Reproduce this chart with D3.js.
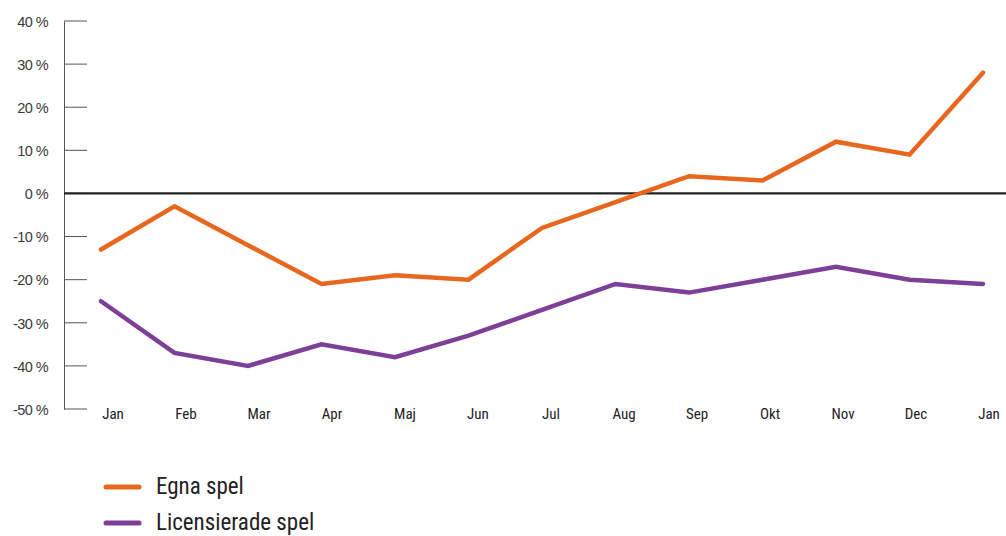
<!DOCTYPE html>
<html>
<head>
<meta charset="utf-8">
<script src="https://cdn.jsdelivr.net/npm/d3@7"></script>
<style>
  html, body { margin: 0; padding: 0; background: #fff; }
  svg { display: block; }
  .cond { font-family: "Liberation Sans Narrow", "Roboto Condensed", "Arial Narrow", sans-serif; }
</style>
</head>
<body>
<svg id="chart" width="1006" height="536"></svg>
<script>
// Monthly change, per cent
const months = ["Jan", "Feb", "Mar", "Apr", "Maj", "Jun", "Jul", "Aug", "Sep", "Okt", "Nov", "Dec", "Jan"];
const egnaSpel = [-13, -3, -12, -21, -19, -20, -8, -2, 4, 3, 12, 9, 28];
const licensieradeSpel = [-25, -37, -40, -35, -38, -33, -27, -21, -23, -20, -17, -20, -21];
const yTicks = [40, 30, 20, 10, 0, -10, -20, -30, -40, -50];

const seriesNames = ["Egna spel", "Licensierade spel"];
const seriesColors = ["#e8671e", "#7d3f98"];

const svg = d3.select("#chart");

const idx = d3.range(months.length);
const x = d3.scalePoint().domain(idx).range([101, 983]);
const xLabel = d3.scalePoint().domain(idx).range([113, 989]);
const y = d3.scaleLinear().domain([-50, 40]).range([409, 21]);

// Y axis
const yAxis = d3.axisLeft(y).tickValues(yTicks).tickSize(0).tickFormat(d => d + " %");
const gy = svg.append("g").attr("transform", "translate(64,0)").call(yAxis);
gy.select(".domain").attr("stroke", "#555").attr("stroke-width", 1);
gy.selectAll("text")
  .attr("x", -16)
  .attr("dy", "0.36em")
  .attr("fill", "#3a3a3a")
  .style("font-family", "'Liberation Sans', Arial, sans-serif")
  .style("font-size", "14.5px")
  .style("letter-spacing", "-0.6px");

// short tick marks inside the plot
svg.append("g").selectAll("line").data(yTicks).join("line")
  .attr("x1", 64).attr("x2", 87)
  .attr("y1", d => y(d)).attr("y2", d => y(d))
  .attr("stroke", "#555").attr("stroke-width", 1);

// Zero line
svg.append("line")
  .attr("x1", 64).attr("x2", 1006)
  .attr("y1", y(0)).attr("y2", y(0))
  .attr("stroke", "#222").attr("stroke-width", 2.2);

// Month labels
svg.append("g").attr("class", "cond").selectAll("text").data(idx).join("text")
  .attr("x", d => xLabel(d))
  .attr("y", 419)
  .attr("text-anchor", "middle")
  .attr("fill", "#222")
  .style("font-size", "15px")
  .text(d => months[d]);

// Lines
const line = d3.line().x((d, i) => x(i)).y(d => y(d));
[egnaSpel, licensieradeSpel].forEach((vals, k) => {
  svg.append("path")
    .datum(vals)
    .attr("fill", "none")
    .attr("stroke", seriesColors[k])
    .attr("stroke-width", 4.5)
    .attr("stroke-linejoin", "miter")
    .attr("stroke-linecap", "round")
    .attr("d", line);
});

// Legend
const legend = svg.append("g").attr("class", "cond");
seriesNames.forEach((name, k) => {
  const ly = 487 + k * 36;
  legend.append("line")
    .attr("x1", 106).attr("x2", 139)
    .attr("y1", ly).attr("y2", ly)
    .attr("stroke", seriesColors[k])
    .attr("stroke-width", 5)
    .attr("stroke-linecap", "round");
  legend.append("text")
    .attr("x", 156).attr("y", ly + 7)
    .attr("fill", "#222")
    .style("font-size", "23px")
    .text(name);
});
</script>
</body>
</html>
